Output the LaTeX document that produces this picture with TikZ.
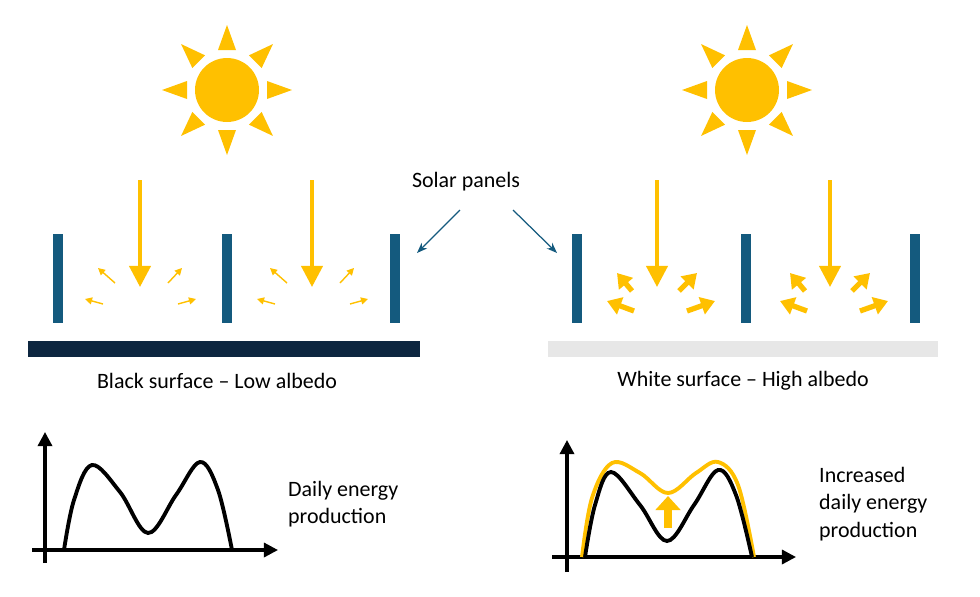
\documentclass[tikz,border=0pt]{standalone}
\usepackage{fontspec}
\setmainfont{Carlito}
\usetikzlibrary{arrows.meta,calc}
\definecolor{sunyellow}{HTML}{FFC000}
\definecolor{panelblue}{HTML}{145A7E}
\definecolor{navy}{HTML}{0D2640}
\definecolor{lightgrey}{HTML}{E7E7E7}
\tikzset{
  panel/.style={fill=panelblue},
  ray/.style={sunyellow, line width=2.2pt, -{Triangle[length=12pt,width=12pt]}},
  thinref/.style={sunyellow, line width=0.8pt, -{Triangle[length=4pt,width=4pt]}},
  thickref/.style={sunyellow, line width=3pt, -{Triangle[length=8pt,width=10pt]}},
  pointer/.style={panelblue, line width=0.7pt, -{Stealth[length=6pt]}},
  axis/.style={line width=1.8pt, -{Triangle[length=8pt,width=8pt]}},
  curve/.style={line width=2.2pt},
  lbl/.style={font=\fontsize{12.5}{15.5}\selectfont, align=left}
}
\newcommand{\drawsun}[2]{%
  \fill[sunyellow] (#1,#2) circle[radius=0.64cm];
  \foreach \a in {0,45,...,315}
    \fill[sunyellow] ($(#1,#2)+(\a:40)+(\a+90:9)$) -- ($(#1,#2)+(\a:65)$) -- ($(#1,#2)+(\a:40)+(\a-90:9)$) -- cycle;
}
\begin{document}
\begin{tikzpicture}[x=0.02cm,y=-0.02cm]
\useasboundingbox (0,0) rectangle (980,596);

% suns
\drawsun{227}{90}
\drawsun{747}{90}

% panels
\foreach \x in {58,227,395,577,746,915}
  \fill[panel] (\x-5,234) rectangle (\x+5,323);

% ground
\fill[navy] (28,341) rectangle (420,357);
\fill[lightgrey] (548,341) rectangle (938,357);

% incoming rays
\foreach \x in {140,312,657,830}
  \draw[ray] (\x,180) -- (\x,287);

% reflected rays, black surface
\foreach \x in {140,312}{
  \draw[thinref] (\x-25,283) -- (\x-42,268);
  \draw[thinref] (\x+28,283) -- (\x+42,268);
  \draw[thinref] (\x-37,304) -- (\x-55,299);
  \draw[thinref] (\x+38,304) -- (\x+56,299);
}
% reflected rays, white surface
\foreach \x in {657,830}{
  \draw[thickref] (\x-25,291) -- (\x-40,273);
  \draw[thickref] (\x+22,291) -- (\x+40,273);
  \draw[thickref] (\x-23,311) -- (\x-50,301);
  \draw[thickref] (\x+30,311) -- (\x+58,301);
}

% labels
\node[lbl] (solar) at (466,182) {Solar panels};
\coordinate (pl) at (417,253);
\coordinate (pr) at (557,253);
\coordinate (sl) at (460,210);
\coordinate (sr) at (513,210);
\draw[pointer] (sl) -- (pl);
\draw[pointer] (sr) -- (pr);
\node[lbl] (black) at (217,381) {Black surface – Low albedo};
\node[lbl] (white) at (743,381) {White surface – High albedo};

% left graph
\draw[axis] (45,563) -- (45,432);
\draw[axis] (32,550) -- (278,550);
\draw[curve] plot[smooth, tension=0.6] coordinates {(64,550) (74,500) (92,465) (120,492) (148,533) (176,495) (200,462) (218,490) (232,550)};
\node[lbl, anchor=west] (daily) at (282,504) {Daily energy\\production};

% right graph
\draw[axis] (567,572) -- (567,440);
\draw[axis] (552,557) -- (796,557);
\draw[curve, sunyellow] plot[smooth, tension=0.6] coordinates {(582,557) (592,498) (612,463) (640,473) (668,493) (696,473) (718,462) (738,485) (754,557)};
\draw[curve] plot[smooth, tension=0.6] coordinates {(585,557) (595,505) (611,472) (640,505) (667,541) (694,505) (718,470) (736,495) (752,557)};
\draw[sunyellow, line width=5pt, -{Triangle[length=8pt,width=14pt]}] (668,528) -- (668,496);
\node[lbl, anchor=west] (incr) at (813,504) {Increased\\daily energy\\production};
\end{tikzpicture}
\end{document}
